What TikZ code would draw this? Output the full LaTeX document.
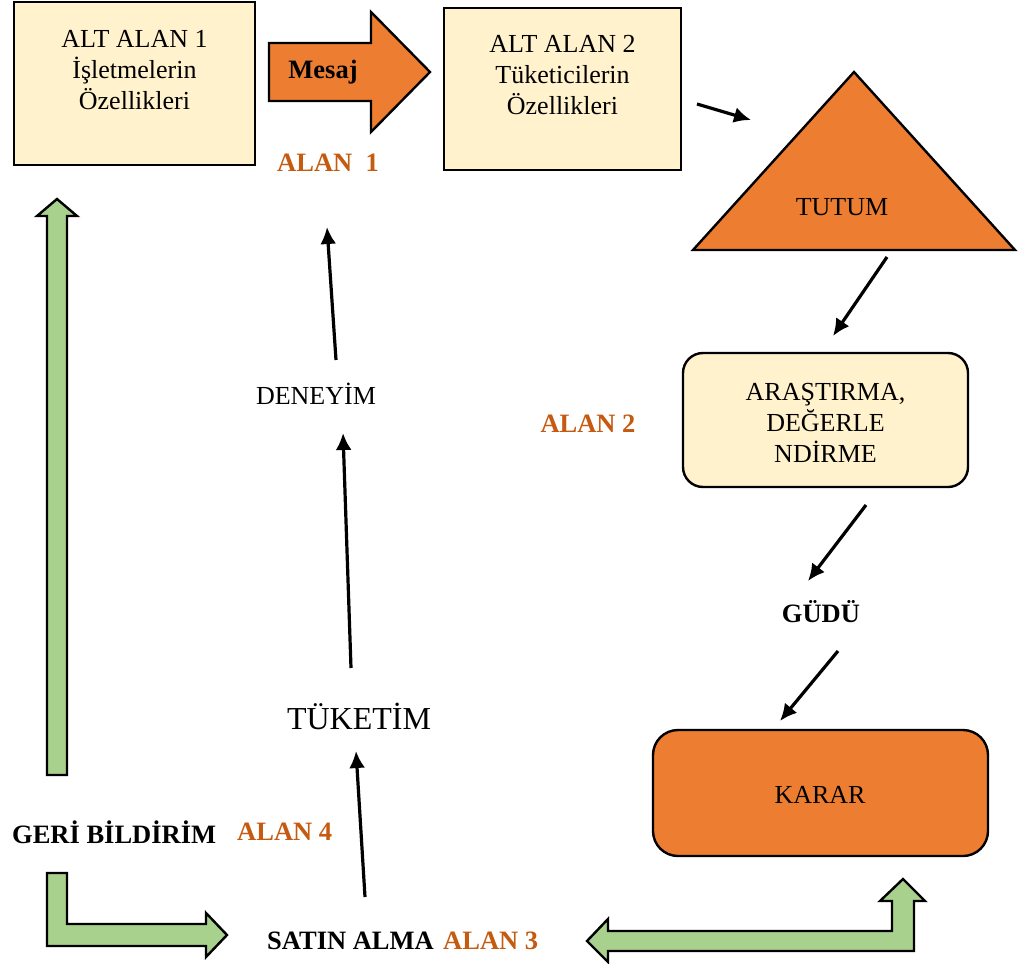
\documentclass[tikz,border=0pt]{standalone}
\usepackage{fontspec}
\setmainfont{Liberation Serif}
\usetikzlibrary{arrows.meta}
\definecolor{cream}{HTML}{FFF2CC}
\definecolor{orangefill}{HTML}{ED7D31}
\definecolor{alanorange}{HTML}{C55A11}
\definecolor{greenfill}{HTML}{A9D18E}

\begin{document}
\begin{tikzpicture}[x=1pt,y=-1pt,
  txt/.style={font=\fontsize{26}{31}\selectfont, align=center, inner sep=0pt},
  boldtxt/.style={font=\fontsize{26.5}{31}\selectfont\bfseries, inner sep=0pt},
  alan/.style={boldtxt, text=alanorange},
  panel/.style={draw=black, line width=2.4pt, fill=cream, inner sep=0pt},
  orangeshape/.style={draw=black, line width=2.4pt, fill=orangefill, line join=miter},
  flow/.style={line width=3.2pt, -{Latex[length=17pt,width=16pt]}},
  greenarrow/.style={draw=black, line width=2.4pt, fill=greenfill, line join=miter},
]
\useasboundingbox (0,0) rectangle (1023,964);

% --- top row: the two sub-area panels and the message arrow
\node[panel, minimum width=241pt, minimum height=163pt] (box1) at (134.5,83.5) {};
\node[txt] (box1txt) at (134.5,70) {ALT ALAN 1\\İşletmelerin\\Özellikleri};

\draw[orangeshape] (269,43) -- (371,43) -- (371,12) -- (430,72) -- (371,132) -- (371,101) -- (269,101) -- cycle;
\node[boldtxt] (mesaj) at (323,72) {Mesaj};
\node[alan] (alan1) at (328,163) {ALAN\ \ 1};

\node[panel, minimum width=237pt, minimum height=162pt] (box2) at (562.5,89) {};
\node[txt] (box2txt) at (562.5,75) {ALT ALAN 2\\Tüketicilerin\\Özellikleri};

% --- attitude triangle
\coordinate (triA) at (854,72);
\coordinate (triB) at (1015,250);
\coordinate (triC) at (693,250);
\draw[orangeshape] (triA) -- (triB) -- (triC) -- cycle;
\node[txt] (tutum) at (842,207) {TUTUM};

% --- research and evaluation, motive, decision
\node[panel, rounded corners=20pt, minimum width=285pt, minimum height=134pt] (arastirma) at (825.5,420) {};
\node[txt] (arastirmatxt) at (825.5,423) {ARAŞTIRMA,\\DEĞERLE\\NDİRME};
\node[alan] (alan2) at (588,424) {ALAN 2};
\node[boldtxt] (gudu) at (821,612) {GÜDÜ};
\node[draw=black, line width=2.4pt, fill=orangefill, rounded corners=25pt, minimum width=335pt, minimum height=126pt, inner sep=0pt] (karar) at (820.5,793) {};
\node[txt] (karartxt) at (820,795) {KARAR};

% --- left column
\node[txt] (deneyim) at (316,394) {DENEYİM};
\node[txt, font=\fontsize{32}{38}\selectfont] (tuketim) at (359,716) {TÜKETİM};
\node[boldtxt, anchor=west] (geri) at (12,832) {GERİ BİLDİRİM};
\node[alan, anchor=west] (alan4) at (237,832) {ALAN 4};
\node[boldtxt, anchor=west] (satin) at (267,941) {SATIN ALMA};
\node[alan, anchor=west] (alan3) at (443,941) {ALAN 3};

% --- connector end points
\coordinate (e1s) at (697,104);  \coordinate (e1t) at (751,120);
\coordinate (e2s) at (887,257);  \coordinate (e2t) at (833,336);
\coordinate (e3s) at (866,505);  \coordinate (e3t) at (808,581);
\coordinate (e4s) at (838,651);  \coordinate (e4t) at (780,721);
\coordinate (e5s) at (336,360);  \coordinate (e5t) at (327,227);
\coordinate (e6s) at (351,668);  \coordinate (e6t) at (343,433);
\coordinate (e7s) at (365,897);  \coordinate (e7t) at (356,751);

\draw[flow] (e1s) -- (e1t);
\draw[flow] (e2s) -- (e2t);
\draw[flow] (e3s) -- (e3t);
\draw[flow] (e4s) -- (e4t);
\draw[flow] (e5s) -- (e5t);
\draw[flow] (e6s) -- (e6t);
\draw[flow] (e7s) -- (e7t);

% --- green block arrows
\draw[greenarrow] (47,775) -- (47,216) -- (37,216) -- (57,199) -- (77,216) -- (67,216) -- (67,775) -- cycle;
\draw[greenarrow] (47,873) -- (67,873) -- (67,924) -- (206,924) -- (206,913) -- (227,935)
  -- (206,957) -- (206,946) -- (47,946) -- cycle;
\draw[greenarrow] (587,941) -- (608,919) -- (608,931) -- (892,931) -- (892,901) -- (880,901)
  -- (903,879) -- (925,901) -- (914,901) -- (914,951) -- (608,951) -- (608,962) -- cycle;
\end{tikzpicture}
\end{document}
